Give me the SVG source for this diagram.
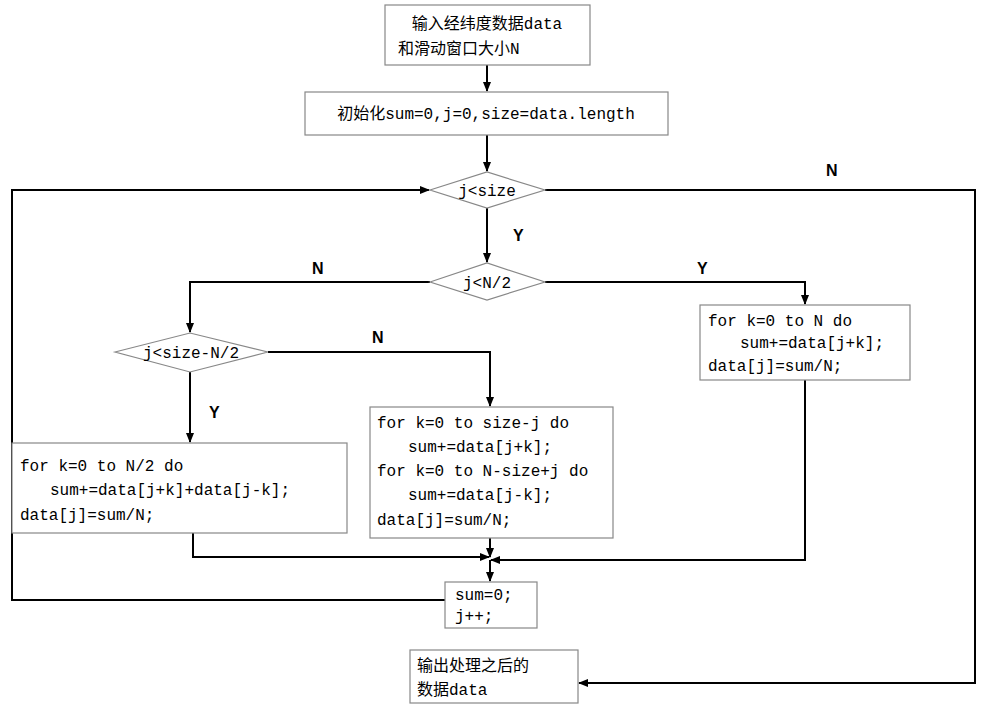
<svg xmlns="http://www.w3.org/2000/svg" width="1000" height="717" viewBox="0 0 1000 717">
<style>
.b{fill:#fff;stroke:#888;stroke-width:1.2}
.t{font-family:"Liberation Mono","Noto Sans CJK SC",monospace;font-size:16px;fill:#000}
.c{fill:none;stroke:#000;stroke-width:2}
.l{font-family:"Liberation Sans",sans-serif;font-size:16px;font-weight:bold}
</style>
<defs><marker id="a" markerWidth="10" markerHeight="10" refX="9" refY="5" orient="auto" markerUnits="userSpaceOnUse"><path d="M0,1 L10,5 L0,9 Z" fill="#000"/></marker></defs>
<rect width="1000" height="717" fill="#fff"/>
<g id="connectors">
<path class="c" d="M487,65 V91" marker-end="url(#a)"/>
<path class="c" d="M487,135 V171" marker-end="url(#a)"/>
<path class="c" d="M545,190 H975 V683 H579" marker-end="url(#a)"/>
<path class="c" d="M445,600 H12 V190 H429" marker-end="url(#a)"/>
<path class="c" d="M487,208 V262" marker-end="url(#a)"/>
<path class="c" d="M545,282 H805 V304" marker-end="url(#a)"/>
<path class="c" d="M430,282 H190 V332" marker-end="url(#a)"/>
<path class="c" d="M268,352 H490 V406" marker-end="url(#a)"/>
<path class="c" d="M190,372 V442" marker-end="url(#a)"/>
<path class="c" d="M193,533 V557 H489" marker-end="url(#a)"/>
<path class="c" d="M490,538 V557" marker-end="url(#a)"/>
<path class="c" d="M805,380 V560 H491" marker-end="url(#a)"/>
<path class="c" d="M490,560 V581" marker-end="url(#a)"/>
<text class="l" x="826" y="176">N</text>
<text class="l" x="513" y="241">Y</text>
<text class="l" x="697" y="274">Y</text>
<text class="l" x="312" y="274">N</text>
<text class="l" x="372" y="343">N</text>
<text class="l" x="209" y="418">Y</text>
</g>
<g id="n1"><rect class="b" x="385" y="5" width="205" height="60"/><text class="t" x="487" y="29" text-anchor="middle">输入经纬度数据data</text><text class="t" x="398" y="54">和滑动窗口大小N</text></g>
<g id="n2"><rect class="b" x="305" y="92" width="363" height="43"/><text class="t" x="486" y="119" text-anchor="middle">初始化sum=0,j=0,size=data.length</text></g>
<g id="d1"><polygon class="b" points="430,190 487,172 545,190 487,208"/><text class="t" x="487" y="196" text-anchor="middle">j&lt;size</text></g>
<g id="d2"><polygon class="b" points="430,282 487,263 545,282 487,300"/><text class="t" x="487" y="288" text-anchor="middle">j&lt;N/2</text></g>
<g id="d3"><polygon class="b" points="115,352 190,333 268,352 190,372"/><text class="t" x="191" y="358" text-anchor="middle">j&lt;size-N/2</text></g>
<g id="n3"><rect class="b" x="700" y="305" width="210" height="75"/><text class="t" x="708" y="326">for k=0 to N do</text><text class="t" x="740" y="348">sum+=data[j+k];</text><text class="t" x="708" y="371">data[j]=sum/N;</text></g>
<g id="n4"><rect class="b" x="370" y="407" width="243" height="131"/><text class="t" x="377" y="428">for k=0 to size-j do</text><text class="t" x="408" y="452">sum+=data[j+k];</text><text class="t" x="377" y="476">for k=0 to N-size+j do</text><text class="t" x="408" y="500">sum+=data[j-k];</text><text class="t" x="377" y="525">data[j]=sum/N;</text></g>
<g id="n5"><rect class="b" x="12" y="443" width="335" height="90"/><text class="t" x="20" y="471">for k=0 to N/2 do</text><text class="t" x="50" y="495">sum+=data[j+k]+data[j-k];</text><text class="t" x="20" y="520">data[j]=sum/N;</text></g>
<g id="n6"><rect class="b" x="445" y="582" width="92" height="46"/><text class="t" x="455" y="600">sum=0;</text><text class="t" x="455" y="621">j++;</text></g>
<g id="n7"><rect class="b" x="410" y="650" width="168" height="53"/><text class="t" x="417" y="671">输出处理之后的</text><text class="t" x="417" y="695">数据data</text></g>
</svg>
